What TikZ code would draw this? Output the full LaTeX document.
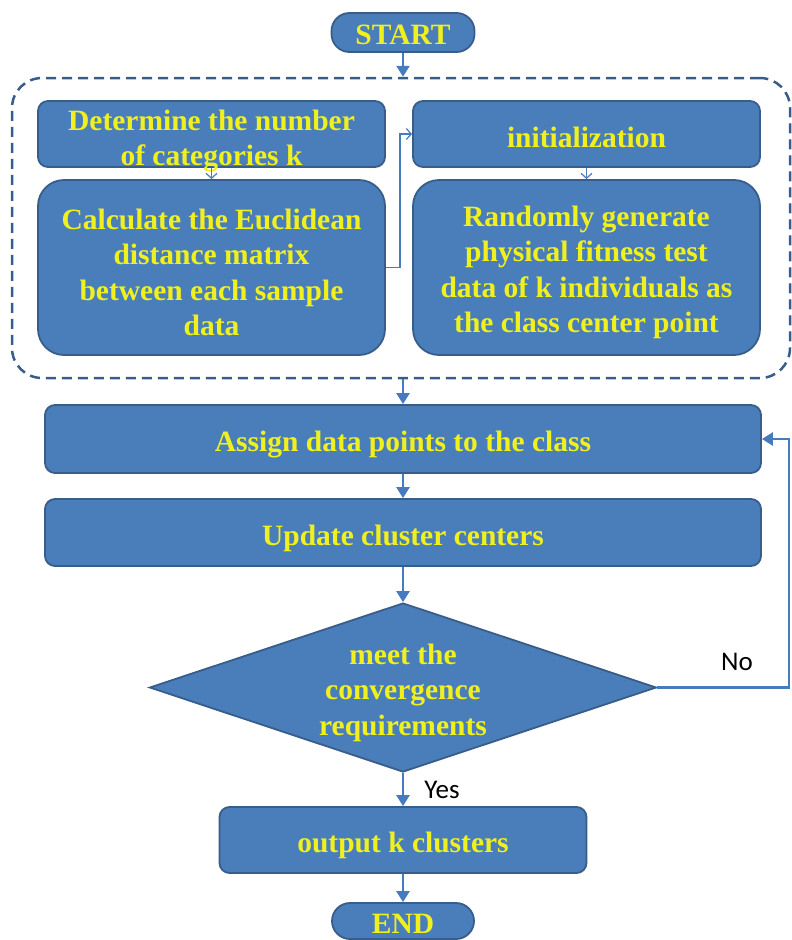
\documentclass[tikz,border=0pt]{standalone}
\usepackage{fontspec}
\setmainfont{Liberation Serif}
\newfontfamily\labfont{Carlito}
\usetikzlibrary{arrows.meta,shapes.geometric}
\definecolor{boxfill}{RGB}{74,126,187}
\definecolor{boxline}{RGB}{56,93,138}
\definecolor{arrowc}{RGB}{70,123,190}
\definecolor{txtyellow}{RGB}{240,240,30}
\tikzset{
  box/.style={draw=boxline, line width=1.8pt, fill=boxfill, rounded corners=10pt, inner sep=0pt},
  bigbox/.style={box, rounded corners=26pt},
  term/.style={box, rounded corners=18pt},
  txt/.style={font=\fontsize{29.5}{35.5}\selectfont\bfseries, text=txtyellow, align=center, inner sep=0pt, yshift=-5pt},
  thick arrow/.style={draw=arrowc, line width=2.5pt, -{Triangle[width=13pt,length=11pt]}},
  thin arrow/.style={draw=arrowc, line width=1.2pt, -{Straight Barb[length=5pt,width=11pt]}},
  lab/.style={font=\labfont\fontsize{27}{30}\selectfont, text=black, inner sep=0pt},
}
\begin{document}
\begin{tikzpicture}[x=1pt,y=-1pt]
\useasboundingbox (0,0) rectangle (792,940);
% terminals
\node[term, minimum width=143pt, minimum height=39pt] (start) at (403,32.5) {};
\node[txt, yshift=3pt] (startt) at (start) {START};
% group
\node[draw=boxline, line width=2.5pt, dash pattern=on 10pt off 6pt, rounded corners=30pt,
  minimum width=778pt, minimum height=300pt, inner sep=0pt] (grp) at (401,228) {};
% inner boxes
\node[box, minimum width=347pt, minimum height=66pt] (b1) at (211.5,134) {};
\node[txt, yshift=-2pt] (b1t) at (b1) {Determine the number\\of categories k};
\node[box, minimum width=347pt, minimum height=66pt] (b2) at (586.5,134) {};
\node[txt, yshift=2pt] (b2t) at (b2) {initialization};
\node[bigbox, minimum width=347pt, minimum height=175pt] (b3) at (211.5,267.5) {};
\node[txt] (b3t) at (b3) {Calculate the Euclidean\\distance matrix\\between each sample\\data};
\node[bigbox, minimum width=347pt, minimum height=175pt] (b4) at (586.5,267.5) {};
\node[txt] (b4t) at (b4) {Randomly generate\\physical fitness test\\data of k individuals as\\the class center point};
% main steps
\node[box, minimum width=716pt, minimum height=68pt] (assign) at (403,439) {};
\node[txt, yshift=-1pt] (assignt) at (assign) {Assign data points to the class};
\node[box, minimum width=716pt, minimum height=67pt] (update) at (403,532.5) {};
\node[txt, yshift=-1pt] (updatet) at (update) {Update cluster centers};
\node[diamond, draw=boxline, line width=1.8pt, fill=boxfill, minimum width=507pt, minimum height=169pt, inner sep=0pt] (dec) at (403,687.5) {};
\node[txt] (dect) at (dec) {meet the\\convergence\\requirements};
\node[box, minimum width=367pt, minimum height=66pt] (out) at (403,840) {};
\node[txt] (outt) at (out) {output k clusters};
\node[term, minimum width=142pt, minimum height=36pt] (end) at (403,921) {};
\node[txt, yshift=2pt] (endt) at (end) {END};
% connectors
\draw[thick arrow] (start.south) -- (start.south |- grp.north);
\draw[thin arrow] (b1.south) -- (b3.north);
\draw[thin arrow] (b2.south) -- (b4.north);
\draw[thin arrow] (b3.east) -- ++(14,0) |- (b2.west);
\draw[thick arrow] (assign.north |- grp.south) -- (assign.north);
\draw[thick arrow] (assign.south) -- (update.north);
\draw[thick arrow] (update.south) -- (dec.north);
\draw[thick arrow] (dec.south) -- (out.north);
\draw[thick arrow] (out.south) -- (end.north);
\coordinate (loop) at (789,687.5);
\draw[thick arrow] (dec.east) -- (loop) |- (assign.east);
\node[lab] (no) at (737,662) {No};
\node[lab] (yes) at (442,790) {Yes};
\end{tikzpicture}
\end{document}
